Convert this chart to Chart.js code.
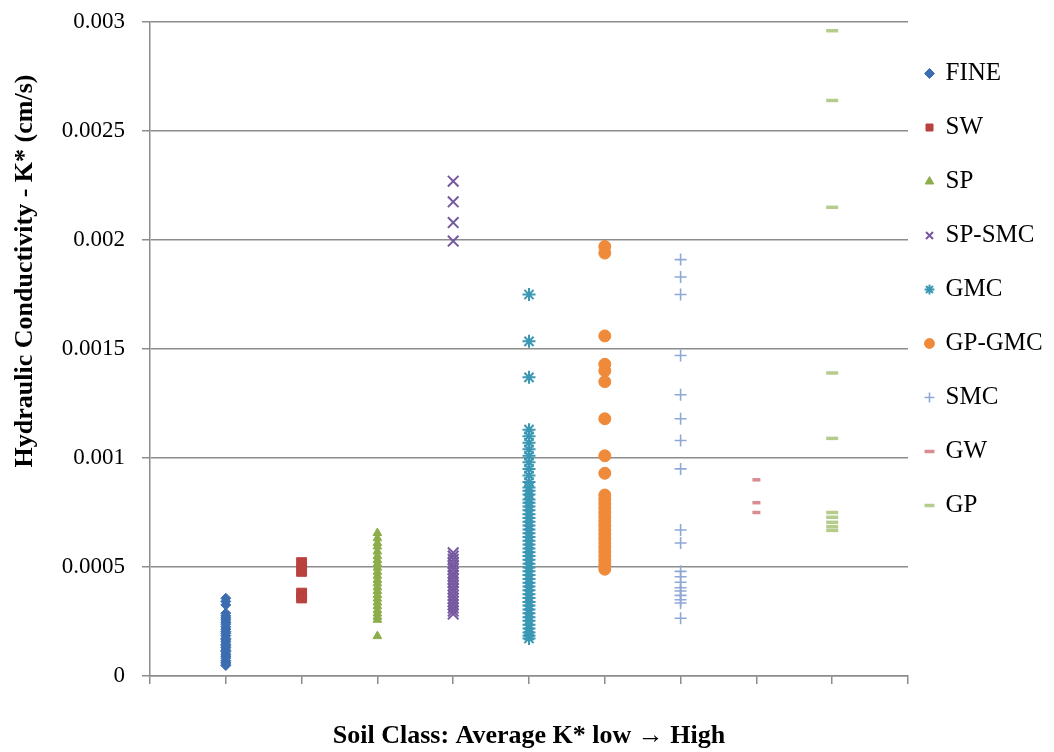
<!DOCTYPE html>
<html lang="en">
<head>
  <meta charset="UTF-8" />
  <title>Hydraulic Conductivity by Soil Class</title>
  <script src="https://cdn.jsdelivr.net/npm/chart.js"></script>
  <style>
    html, body { margin: 0; padding: 0; background: #fff; }
    #wrap { width: 1054px; height: 752px; }
  </style>
</head>
<body>
  <div id="wrap"><canvas id="kChart" width="1054" height="752"></canvas></div>

  <script>
    // soil classes, ordered by average K* (x position = index + 1)
    const soilClasses = ['FINE', 'SW', 'SP', 'SP-SMC', 'GMC', 'GP-GMC', 'SMC', 'GW', 'GP'];

    // K* values (cm/s)
    const fineK = [0.000048, 0.000055, 0.000063, 0.00007, 0.000082, 0.000091, 0.0001, 0.000112, 0.000118,
      0.00013, 0.000138, 0.000145, 0.000157, 0.000166, 0.000172, 0.000185, 0.000196, 0.000204, 0.000215,
      0.000226, 0.000238, 0.000247, 0.000258, 0.000267, 0.000276, 0.000288, 0.000326, 0.000342, 0.000357];
    const swK = [0.00052, 0.00048, 0.00038, 0.000358];
    const spK = [0.000656, 0.000632, 0.00061, 0.000594, 0.000571, 0.00055, 0.000532, 0.000515, 0.000497,
      0.000478, 0.00046, 0.000441, 0.000425, 0.000407, 0.00039, 0.000372, 0.000355, 0.000337, 0.00032,
      0.000302, 0.000287, 0.000272, 0.000258, 0.000183];
    const spSmcK = [0.00227, 0.002175, 0.00208, 0.001995, 0.000565, 0.00055, 0.000535, 0.000518, 0.000503,
      0.00049, 0.000473, 0.00046, 0.000445, 0.00043, 0.000415, 0.0004, 0.000386, 0.00037, 0.000356,
      0.000341, 0.000327, 0.000312, 0.000298, 0.000284];
    const gmcK = [0.00175, 0.001535, 0.00137, 0.00113, 0.0011, 0.00107, 0.00104, 0.00101, 0.00098, 0.00095,
      0.00092, 0.00089, 0.000865, 0.00085, 0.000832, 0.00081, 0.000795, 0.000778, 0.00076, 0.000742,
      0.000725, 0.000708, 0.00069, 0.000672, 0.000655, 0.000638, 0.00062, 0.000603, 0.000585, 0.000568,
      0.00055, 0.000533, 0.000515, 0.000498, 0.00048, 0.000463, 0.000445, 0.000428, 0.00041, 0.000393,
      0.000375, 0.000358, 0.00034, 0.000323, 0.000305, 0.000288, 0.00027, 0.000253, 0.000235, 0.000218,
      0.0002, 0.000185, 0.000172];
    const gpGmcK = [0.00197, 0.00194, 0.00156, 0.00143, 0.0014, 0.00135, 0.00118, 0.00101, 0.00093,
      0.00083, 0.00081, 0.00079, 0.00077, 0.00075, 0.00073, 0.00071, 0.00069, 0.00067, 0.00065, 0.00063,
      0.00061, 0.00059, 0.00057, 0.00055, 0.00053, 0.00051, 0.00049];
    const smcK = [0.00191, 0.00183, 0.00175, 0.00147, 0.00129, 0.00118, 0.00108, 0.00095, 0.00067, 0.00061,
      0.00048, 0.000455, 0.00043, 0.000405, 0.00039, 0.00037, 0.00035, 0.000335, 0.000265];
    const gwK = [0.0009, 0.000795, 0.00075];
    const gpK = [0.00296, 0.00264, 0.00215, 0.00139, 0.00109, 0.00075, 0.000728, 0.000705, 0.000685, 0.000668];

    const yTicks = [0, 0.0005, 0.001, 0.0015, 0.002, 0.0025, 0.003];

    const seriesValues = [fineK, swK, spK, spSmcK, gmcK, gpGmcK, smcK, gwK, gpK];

    // marker look per series
    const markers = [
      { color: '#3b6db0', style: 'rectRot',  radius: 5,   width: 1 },
      { color: '#b9413e', style: 'rect',     radius: 7,   width: 1 },
      { color: '#8cad4a', style: 'triangle', radius: 5,   width: 1 },
      { color: '#7558a0', style: 'crossRot', radius: 7.5, width: 2 },
      { color: '#3a98b4', style: 'star',     radius: 6.5, width: 2 },
      { color: '#ee8a3a', style: 'circle',   radius: 6,   width: 1 },
      { color: '#8fa8d8', style: 'cross',    radius: 6,   width: 1.6 },
      { color: '#d88c92', style: 'line',     radius: 4,   width: 3.5 },
      { color: '#b6cc8c', style: 'line',     radius: 6,   width: 3.5 }
    ];

    const datasets = soilClasses.map((name, i) => ({
      label: name,
      data: seriesValues[i].map(v => ({ x: i + 1, y: v })),
      pointStyle: markers[i].style,
      pointRadius: markers[i].radius,
      pointBorderWidth: markers[i].width,
      backgroundColor: markers[i].color,
      borderColor: markers[i].color,
      showLine: false
    }));

    const serif = 'Liberation Serif, Times New Roman, serif';
    const gridGrey = '#8c8c8c';

    // legend sits a little closer to the plot than its padding would put it
    const legendPlace = {
      id: 'legendPlace',
      afterLayout(chart) { chart.legend.left = 897; }
    };

    // the y title sits above the middle of the axis in the original
    const yTitleText = '\u00a0'.repeat(24) + 'Hydraulic Conductivity - K* (cm/s)';

    new Chart(document.getElementById('kChart').getContext('2d'), {
      type: 'scatter',
      data: { datasets: datasets },
      plugins: [legendPlace],
      options: {
        responsive: false,
        animation: false,
        layout: { padding: { top: 22, right: 0, bottom: 0, left: 0 } },
        plugins: {
          tooltip: { enabled: false },
          legend: {
            position: 'right',
            align: 'start',
            maxWidth: 146,
            title: { display: true, text: ' ', font: { size: 5 }, padding: 2 },
            labels: {
              usePointStyle: true,
              boxWidth: 7,
              boxHeight: 7,
              padding: 29,
              color: '#000',
              font: { family: serif, size: 25 }
            }
          }
        },
        scales: {
          x: {
            type: 'linear',
            min: 0,
            max: 10,
            ticks: { stepSize: 1, display: false },
            grid: { drawOnChartArea: false, drawTicks: true, tickLength: 8, color: gridGrey, lineWidth: 1.5 },
            border: { color: gridGrey, width: 1.5 },
            title: {
              display: true,
              text: 'Soil Class: Average K* low \u2192 High',
              color: '#000',
              font: { family: serif, size: 26, weight: 'bold' },
              padding: { top: 0, bottom: 0 }
            },
            afterFit: scale => { scale.height = 76; }
          },
          y: {
            min: 0,
            max: 0.003,
            afterBuildTicks: scale => { scale.ticks = yTicks.map(v => ({ value: v })); },
            ticks: {
              color: '#000',
              padding: 17,
              font: { family: serif, size: 23 },
              callback: v => String(+v.toFixed(4))
            },
            grid: { color: gridGrey, lineWidth: 1.5, tickLength: 8 },
            border: { color: gridGrey, width: 1.5 },
            title: {
              display: true,
              text: yTitleText,
              color: '#000',
              font: { family: serif, size: 26, weight: 'bold' },
              padding: { top: 10, bottom: 0 }
            },
            afterFit: scale => { scale.width = 150; scale.paddingTop = 0; }
          }
        }
      }
    });
  </script>
</body>
</html>
